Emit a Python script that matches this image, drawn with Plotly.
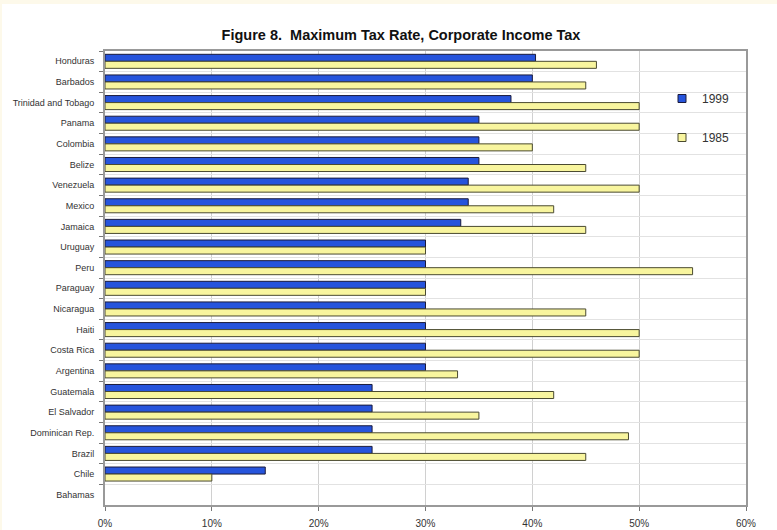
import plotly.graph_objects as go

countries = [
    "Honduras", "Barbados", "Trinidad and Tobago", "Panama", "Colombia",
    "Belize", "Venezuela", "Mexico", "Jamaica", "Uruguay", "Peru",
    "Paraguay", "Nicaragua", "Haiti", "Costa Rica", "Argentina",
    "Guatemala", "El Salvador", "Dominican Rep.", "Brazil", "Chile", "Bahamas",
]
rate_1999 = [40.3, 40, 38, 35, 35, 35, 34, 34, 33.3, 30, 30,
             30, 30, 30, 30, 30, 25, 25, 25, 25, 15, 0]
rate_1985 = [46, 45, 50, 50, 40, 45, 50, 42, 45, 30, 55,
             30, 45, 50, 50, 33, 42, 35, 49, 45, 10, 0]
x_ticks = [0, 10, 20, 30, 40, 50, 60]

BLUE, YELLOW = "#2654dc", "#f8f59e"

W, H = 777, 530
L, R, T, B = 105, 31, 51, 25
pw, ph = W - L - R, H - T - B


def outline(values):
    # no outline on zero-length bars
    return [0 if v == 0 else 1 for v in values]


fig = go.Figure()
fig.add_trace(go.Bar(
    y=countries, x=rate_1999, name="1999", orientation="h", showlegend=False,
    marker=dict(color=BLUE, line=dict(color="#1a1a3a", width=outline(rate_1999))),
))
fig.add_trace(go.Bar(
    y=countries, x=rate_1985, name="1985", orientation="h", showlegend=False,
    marker=dict(color=YELLOW, line=dict(color="#4a4a30", width=outline(rate_1985))),
))

# legend entries with small square keys
for name, color, edge, grp in [("1999", BLUE, "#1a1a3a", "a"),
                               ("1985", YELLOW, "#4a4a30", "b")]:
    fig.add_trace(go.Scatter(
        x=[None], y=[None], mode="markers", name=name, legendgroup=grp,
        marker=dict(symbol="square", size=8, color=color,
                    line=dict(color=edge, width=1)),
    ))

# white page on a thin cream margin
fig.add_shape(type="rect", xref="paper", yref="paper",
              x0=(2 - L) / pw, x1=(W - L) / pw,
              y0=-(B + 5) / ph, y1=(ph + T - 4) / ph,
              fillcolor="white", line=dict(width=0), layer="below")

fig.update_layout(
    width=W, height=H,
    margin=dict(l=L, r=R, t=T, b=B),
    paper_bgcolor="#fdf9ea",
    plot_bgcolor="white",
    barmode="group",
    bargap=0.32,
    bargroupgap=0,
    title=dict(
        text="<b>Figure 8.  Maximum Tax Rate, Corporate Income Tax</b>",
        x=401 / W, xanchor="center", y=1 - 35 / H, yanchor="middle",
        font=dict(family="Liberation Sans, Arial, sans-serif", size=14.5, color="#111"),
    ),
    font=dict(family="Liberation Sans, Arial, sans-serif", color="#333"),
    legend=dict(
        x=(662 - L) / pw, y=(H - B - 84) / ph, xanchor="left", yanchor="top",
        bgcolor="rgba(0,0,0,0)", font=dict(size=12, color="#333"),
        tracegroupgap=20, itemwidth=30,
    ),
    xaxis=dict(
        range=[0, 60], tickvals=x_ticks,
        ticktext=[f"{v}%" for v in x_ticks],
        showgrid=True, gridcolor="#d0d0d0", gridwidth=1,
        showline=True, linecolor="#999", linewidth=2, mirror=True,
        ticks="outside", ticklen=4, tickcolor="#777", ticklabelstandoff=4,
        tickfont=dict(size=10, color="#333"), zeroline=False,
        automargin=False,
    ),
    yaxis=dict(
        type="category", autorange="reversed",
        tickson="boundaries", ticks="outside", ticklen=4, tickcolor="#777",
        ticklabelstandoff=7, automargin=False,
        showgrid=True, gridcolor="#e2e2e2", gridwidth=1,
        showline=True, linecolor="#999", linewidth=2, mirror=True,
        tickfont=dict(size=9, color="#333"),
    ),
)

fig.write_html("out.html")
